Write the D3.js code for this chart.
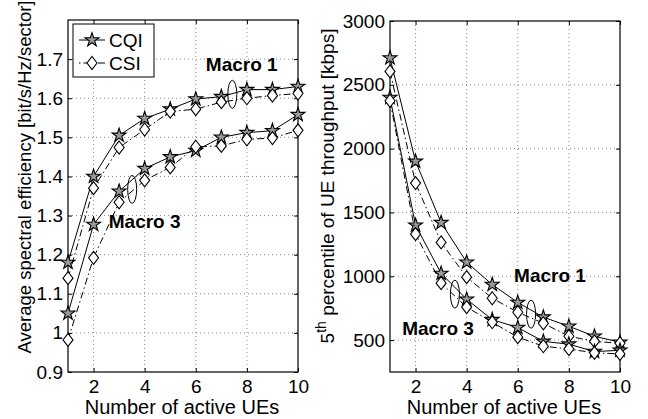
<!DOCTYPE html>
<html>
<head>
<meta charset="utf-8">
<script src="https://cdn.jsdelivr.net/npm/d3@7"></script>
<style>
  body { margin: 0; background: #fff; }
  svg text { font-family: "Liberation Sans", Arial, sans-serif; }
</style>
</head>
<body>
<svg id="chart" width="648" height="419"></svg>
<script>
// number of active UEs
let ues = [1, 2, 3, 4, 5, 6, 7, 8, 9, 10];

// spectral efficiency [bit/s/Hz/sector]
let seMacro1Cqi = [1.18, 1.40, 1.505, 1.548, 1.572, 1.598, 1.604, 1.622, 1.622, 1.630];
let seMacro1Csi = [1.14, 1.37, 1.474, 1.520, 1.566, 1.572, 1.590, 1.600, 1.607, 1.612];
let seMacro3Cqi = [1.05, 1.277, 1.362, 1.420, 1.450, 1.466, 1.500, 1.512, 1.517, 1.558];
let seMacro3Csi = [0.982, 1.192, 1.334, 1.390, 1.423, 1.476, 1.478, 1.495, 1.498, 1.518];

// 5th percentile UE throughput [kbps]
let tpMacro1Cqi = [2710, 1900, 1420, 1110, 935, 795, 680, 608, 530, 483];
let tpMacro1Csi = [2605, 1730, 1265, 993, 828, 718, 632, 530, 490, 475];
let tpMacro3Cqi = [2400, 1400, 1022, 820, 660, 598, 490, 468, 410, 420];
let tpMacro3Csi = [2375, 1330, 946, 758, 640, 523, 452, 430, 400, 392];

let seTicks = [0.9, 1, 1.1, 1.2, 1.3, 1.4, 1.5, 1.6, 1.7];
let tpTicks = [500, 1000, 1500, 2000, 2500, 3000];
let xTicks = [2, 4, 6, 8, 10];

let svg = d3.select("#chart");
let tickFont = 19;

let panels = [
    {
        left: 68, right: 298, top: 20, bottom: 372,
        yDomain: [0.9, 1.8], yTicks: seTicks, yFmt: d => d === 1 ? "1" : d3.format(".1f")(d),
        series: [seMacro1Cqi, seMacro1Csi, seMacro3Cqi, seMacro3Csi],
        labels: [{ text: "Macro 1", x: 7.8, y: 1.669 }, { text: "Macro 3", x: 4.0, y: 1.269 }],
        ellipses: [{ x: 7.43, y: 1.61 }, { x: 3.51, y: 1.367 }],
        labelX: 31, labelY: 177, labelSize: 18.5
    },
    {
        left: 390, right: 620, top: 21, bottom: 372,
        yDomain: [250, 3000], yTicks: tpTicks, yFmt: d => d,
        series: [tpMacro1Cqi, tpMacro1Csi, tpMacro3Cqi, tpMacro3Csi],
        labels: [{ text: "Macro 1", x: 7.26, y: 955 }, { text: "Macro 3", x: 2.88, y: 540 }],
        ellipses: [{ x: 3.54, y: 860 }, { x: 6.52, y: 703 }],
        labelX: 334, labelY: 186, labelSize: 19
    }
];

let star = d3.symbol().type(d3.symbolStar).size(60);
let diamondPath = "M0,-6.5L5,0L0,6.5L-5,0Z";

panels.forEach((p, idx) => {
    let x = d3.scaleLinear().domain([1, 10]).range([p.left, p.right]);
    let y = d3.scaleLinear().domain(p.yDomain).range([p.bottom, p.top]);
    let g = svg.append("g");

    // dotted grid
    g.selectAll(".gx").data(xTicks.filter(d => d < 10)).enter().append("line")
        .attr("x1", d => x(d)).attr("x2", d => x(d))
        .attr("y1", p.top).attr("y2", p.bottom)
        .style("stroke", "#888").style("stroke-dasharray", "1,3");
    g.selectAll(".gy").data(p.yTicks.filter(d => y(d) > p.top + 1 && y(d) < p.bottom - 1)).enter().append("line")
        .attr("x1", p.left).attr("x2", p.right)
        .attr("y1", d => y(d)).attr("y2", d => y(d))
        .style("stroke", "#888").style("stroke-dasharray", "1,3");

    // axes with inward ticks on all four sides
    g.append("g").attr("transform", "translate(0," + p.bottom + ")")
        .call(d3.axisBottom(x).tickValues(xTicks).tickSize(-4).tickPadding(8))
        .call(s => s.select(".domain").remove());
    g.append("g").attr("transform", "translate(0," + p.top + ")")
        .call(d3.axisTop(x).tickValues(xTicks).tickSize(-4).tickFormat(""))
        .call(s => s.select(".domain").remove());
    g.append("g").attr("transform", "translate(" + p.left + ",0)")
        .call(d3.axisLeft(y).tickValues(p.yTicks).tickFormat(p.yFmt).tickSize(-4).tickPadding(5))
        .call(s => s.select(".domain").remove());
    g.append("g").attr("transform", "translate(" + p.right + ",0)")
        .call(d3.axisRight(y).tickValues(p.yTicks).tickFormat("").tickSize(-4))
        .call(s => s.select(".domain").remove());
    g.selectAll(".tick text").style("font-size", tickFont + "px")
        .style("font-family", "Liberation Sans, Arial, sans-serif").attr("fill", "#000");
    g.selectAll(".tick line").attr("stroke", "#000");

    // frame
    g.append("rect").attr("x", p.left).attr("y", p.top)
        .attr("width", p.right - p.left).attr("height", p.bottom - p.top)
        .style("fill", "none").style("stroke", "#000").style("stroke-width", 1.2);

    // lines and markers
    let line = d3.line().x((d, i) => x(ues[i])).y(d => y(d));
    p.series.forEach((s, k) => {
        let isCsi = k % 2 === 1;
        g.append("path").datum(s).attr("d", line)
            .style("fill", "none").style("stroke", "#000").style("stroke-width", 1)
            .style("stroke-dasharray", isCsi ? "7,3,1.5,3" : null);
        g.selectAll(null).data(s).enter().append("path")
            .attr("transform", (d, i) => "translate(" + x(ues[i]) + "," + y(d) + ")")
            .attr("d", isCsi ? diamondPath : star())
            .style("fill", isCsi ? "#fff" : "#999").style("stroke", "#000").style("stroke-width", 1.1);
    });

    // ellipses grouping CQI/CSI pairs
    p.ellipses.forEach(e => {
        g.append("ellipse").attr("cx", x(e.x)).attr("cy", y(e.y)).attr("rx", 4.5).attr("ry", 14)
            .style("fill", "none").style("stroke", "#000").style("stroke-width", 1);
    });

    // macro labels
    p.labels.forEach(l => {
        g.append("text").attr("x", x(l.x)).attr("y", y(l.y))
            .attr("text-anchor", "middle").style("font-size", "19px").style("font-weight", "bold")
            .text(l.text);
    });

    // x label
    g.append("text").attr("x", (p.left + p.right) / 2 - 1).attr("y", 414)
        .attr("text-anchor", "middle").style("font-size", "20px")
        .text("Number of active UEs");

    // y label
    let yl = g.append("text")
        .attr("transform", "translate(" + p.labelX + "," + p.labelY + ") rotate(-90)")
        .attr("text-anchor", "middle").style("font-size", p.labelSize + "px");
    if (idx === 0) {
        yl.text("Average spectral efficiency [bit/s/Hz/sector]");
    } else {
        yl.append("tspan").text("5");
        yl.append("tspan").attr("dy", -8).style("font-size", "14px").text("th");
        yl.append("tspan").attr("dy", 8).text(" percentile of UE throughput [kbps]");
    }
});

// legend on the left panel
let legend = svg.append("g");
legend.append("rect").attr("x", 73).attr("y", 24).attr("width", 81).attr("height", 53)
    .style("fill", "#fff").style("stroke", "#000").style("stroke-width", 1);
let legendItems = [{ name: "CQI", csi: false, y: 40 }, { name: "CSI", csi: true, y: 63 }];
legendItems.forEach(it => {
    legend.append("line").attr("x1", 79).attr("x2", 105).attr("y1", it.y).attr("y2", it.y)
        .style("stroke", "#000").style("stroke-dasharray", it.csi ? "1.5,3,7,3" : null);
    legend.append("path").attr("transform", "translate(92," + it.y + ")")
        .attr("d", it.csi ? diamondPath : star())
        .style("fill", it.csi ? "#fff" : "#999").style("stroke", "#000").style("stroke-width", 1.1);
    legend.append("text").attr("x", 109).attr("y", it.y + 7)
        .style("font-size", "19px").text(it.name);
});
</script>
</body>
</html>
